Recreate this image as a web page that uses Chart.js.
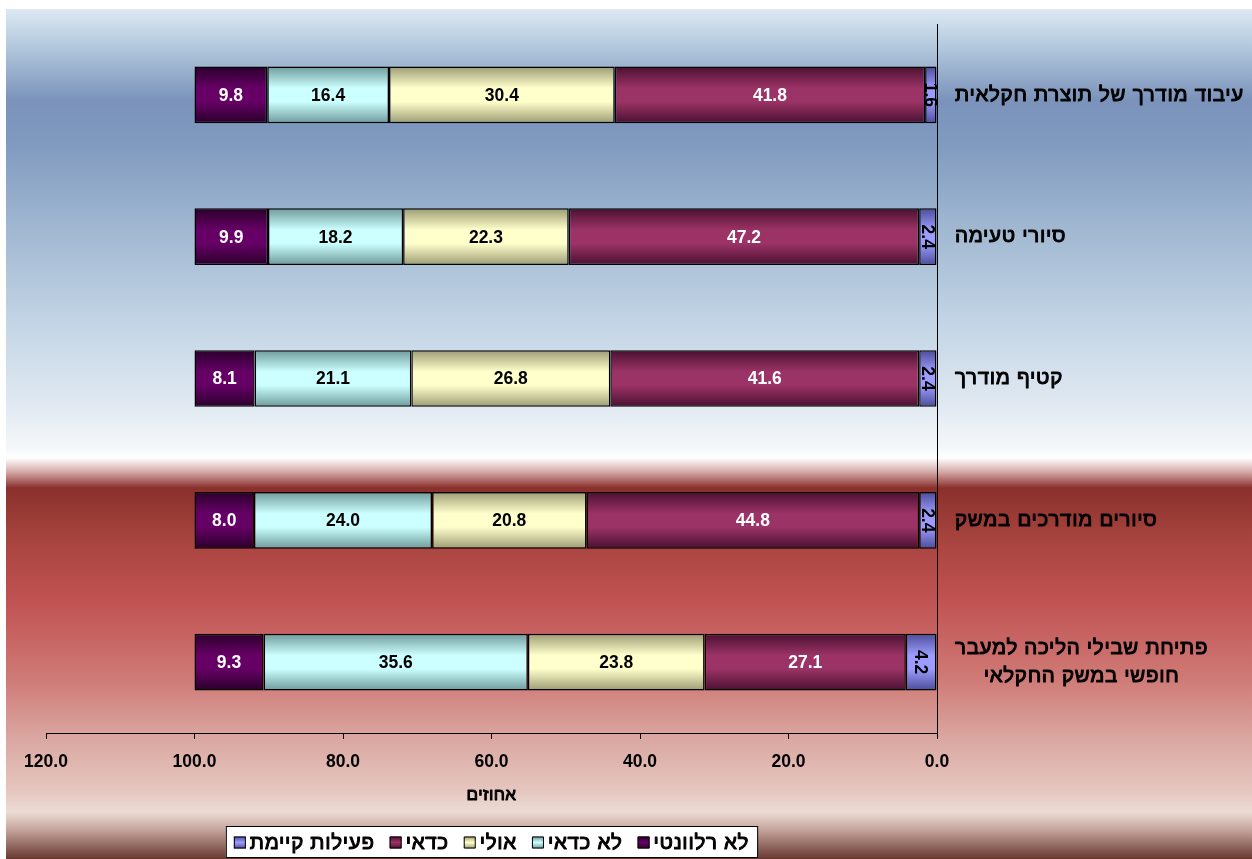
<!DOCTYPE html>
<html>
<head>
<meta charset="utf-8">
<script src="https://cdn.jsdelivr.net/npm/chart.js@4"></script>
<style>
  html, body { margin: 0; padding: 0; background: #fff; }
  canvas { display: block; }
</style>
</head>
<body>
<canvas id="Chart1" width="1252" height="859"></canvas>
<script>
// categories, top to bottom
const categories = [
    'עיבוד מודרך של תוצרת חקלאית',
    'סיורי טעימה',
    'קטיף מודרך',
    'סיורים מודרכים במשק',
    ['פתיחת שבילי הליכה למעבר', 'חופשי במשק החקלאי']
];
// series, from the 0 end (right) outwards
const seriesNames = ['פעילות קיימת', 'כדאי', 'אולי', 'לא כדאי', 'לא רלוונטי'];
const existing = [1.6, 2.4, 2.4, 2.4, 4.2];
const worth = [41.8, 47.2, 41.6, 44.8, 27.1];
const maybe = [30.4, 22.3, 26.8, 20.8, 23.8];
const notWorth = [16.4, 18.2, 21.1, 24.0, 35.6];
const irrelevant = [9.8, 9.9, 8.1, 8.0, 9.3];
const seriesValues = [existing, worth, maybe, notWorth, irrelevant];
const xTicks = [0, 20, 40, 60, 80, 100, 120];
const axisTitle = 'אחוזים';

// styles
const baseColors = ['#9c9cff', '#9b3366', '#ffffcc', '#ccffff', '#660066'];
const edgeColors = ['#4c4c9a', '#4a1030', '#9c9c74', '#6e9a9a', '#2a002a'];
const labelColors = ['#000', '#fff', '#000', '#000', '#fff'];
const FONT = '"Liberation Sans", Arial, sans-serif';
Chart.defaults.font.family = FONT;

// background bands (page y, colour)
const bgStops = [
    [9, '#dde9f3'], [50, '#afc5db'], [100, '#7b93bb'], [140, '#7f99bf'],
    [220, '#9db5cf'], [320, '#c2d4e5'], [410, '#e2eaf2'], [450, '#f6f9fb'],
    [458, '#ffffff'], [472, '#d4a8a6'], [488, '#8a302c'], [540, '#a8443f'],
    [600, '#c05252'], [680, '#cf7b77'], [740, '#dba8a2'], [790, '#e5c6bf'],
    [812, '#ecdcd4'], [830, '#c4a49c'], [859, '#683830']
];

function barFill(k) {
    return function(c) {
        const chart = c.chart;
        const ys = chart.scales.y;
        if (!ys || !chart.chartArea || c.type !== 'data') return baseColors[k];
        const y = ys.getPixelForValue(c.dataIndex);
        const half = Math.abs(ys.getPixelForValue(1) - ys.getPixelForValue(0)) * 0.4 / 2;
        if (!isFinite(y) || !isFinite(half) || half <= 0) return baseColors[k];
        const g = chart.ctx.createLinearGradient(0, y - half, 0, y + half);
        g.addColorStop(0, edgeColors[k]);
        g.addColorStop(0.38, baseColors[k]);
        g.addColorStop(0.62, baseColors[k]);
        g.addColorStop(1, edgeColors[k]);
        return g;
    };
}

// Hebrew text: regular face thickened with a thin stroke
function boldText(c, text, x, y) {
    c.lineWidth = 1;
    c.strokeStyle = c.fillStyle;
    c.lineJoin = 'round';
    c.strokeText(text, x, y);
    c.fillText(text, x, y);
}

const backgroundPlugin = {
    id: 'bgFill',
    beforeDraw(chart) {
        const c = chart.ctx;
        const g = c.createLinearGradient(0, 9, 0, chart.height);
        bgStops.forEach(([y, col]) => g.addColorStop((y - 9) / (chart.height - 9), col));
        c.save();
        c.fillStyle = '#fff';
        c.fillRect(0, 0, chart.width, chart.height);
        c.fillStyle = g;
        c.fillRect(6, 9, chart.width - 6, chart.height - 9);
        c.restore();
    }
};

// value labels inside the bars
const barLabelPlugin = {
    id: 'barLabels',
    afterDatasetsDraw(chart) {
        const c = chart.ctx;
        chart.data.datasets.forEach((ds, di) => {
            const meta = chart.getDatasetMeta(di);
            meta.data.forEach((bar, i) => {
                c.save();
                c.font = 'bold 17.5px ' + FONT;
                c.fillStyle = labelColors[di];
                c.textAlign = 'center';
                c.textBaseline = 'middle';
                c.translate((bar.x + bar.base) / 2, bar.y);
                if (di === 0) c.rotate(Math.PI / 2);
                c.fillText(ds.data[i].toFixed(1), 0, 1);
                c.restore();
            });
        });
    }
};

// category names to the right of the axis, plus the axis title
const categoryPlugin = {
    id: 'categoryLabels',
    afterDraw(chart) {
        const c = chart.ctx;
        const ys = chart.scales.y;
        const area = chart.chartArea;
        const x0 = area.right + 18;
        c.save();
        c.direction = 'ltr';
        c.font = '20.5px ' + FONT;
        c.letterSpacing = '0.7px';
        c.fillStyle = '#000';
        c.textAlign = 'center';
        c.textBaseline = 'middle';
        categories.forEach((lab, i) => {
            const lines = Array.isArray(lab) ? lab : [lab];
            const y = ys.getPixelForValue(i);
            const w = Math.max(...lines.map(l => c.measureText(l).width));
            lines.forEach((l, k) => {
                boldText(c, l, x0 + w / 2, y + (k - (lines.length - 1) / 2) * 28);
            });
        });
        c.font = '17px ' + FONT;
        c.letterSpacing = '0.4px';
        boldText(c, axisTitle, (area.left + area.right) / 2, 795);
        c.restore();
    }
};

// boxed legend centred under the plot
const legendPlugin = {
    id: 'boxLegend',
    afterDraw(chart) {
        const c = chart.ctx;
        const box = 12, gap = 4, spacing = 15, pad = 8;
        c.save();
        c.direction = 'ltr';
        c.font = '20.5px ' + FONT;
        c.letterSpacing = '0.7px';
        const widths = seriesNames.map(n => c.measureText(n).width);
        const total = widths.reduce((a, w) => a + box + gap + w, 0) + spacing * (seriesNames.length - 1);
        const cx = (chart.chartArea.left + chart.chartArea.right) / 2;
        const left = cx - total / 2 - pad;
        const top = 826, h = 31;
        c.fillStyle = '#fff';
        c.fillRect(left, top, total + pad * 2, h);
        c.strokeStyle = '#000';
        c.lineWidth = 1;
        c.strokeRect(left + 0.5, top + 0.5, total + pad * 2, h);
        let x = left + pad;
        const my = top + h / 2 + 1;
        seriesNames.forEach((n, k) => {
            const g = c.createLinearGradient(0, my - box / 2, 0, my + box / 2);
            g.addColorStop(0, edgeColors[k]);
            g.addColorStop(0.5, baseColors[k]);
            g.addColorStop(1, edgeColors[k]);
            c.fillStyle = g;
            c.fillRect(x, my - box / 2, box, box);
            c.strokeStyle = '#000';
            c.lineWidth = 1;
            c.strokeRect(x + 0.5, my - box / 2 + 0.5, box - 1, box - 1);
            x += box + gap;
            c.fillStyle = '#000';
            c.textAlign = 'left';
            c.textBaseline = 'middle';
            boldText(c, n, x, my + 1);
            x += widths[k] + spacing;
        });
        c.restore();
    }
};

const ctx1 = document.getElementById('Chart1').getContext('2d');
const chart1 = new Chart(ctx1, {
    type: 'bar',
    data: {
        labels: categories.map(l => Array.isArray(l) ? l.join(' ') : l),
        datasets: seriesNames.map((name, k) => ({
            label: name,
            data: seriesValues[k],
            backgroundColor: barFill(k),
            borderColor: '#000',
            borderWidth: 1.5,
            borderSkipped: false,
            barPercentage: 0.4,
            categoryPercentage: 1
        }))
    },
    options: {
        indexAxis: 'y',
        responsive: false,
        animation: false,
        layout: { padding: { left: 46, top: 24 } },
        plugins: {
            legend: { display: false },
            tooltip: { enabled: false }
        },
        scales: {
            x: {
                stacked: true,
                reverse: true,
                min: 0,
                max: 120,
                afterBuildTicks: s => { s.ticks = xTicks.map(v => ({ value: v })); },
                ticks: {
                    callback: v => Number(v).toFixed(1),
                    color: '#000',
                    font: { size: 17.5, weight: 'bold' },
                    padding: 13,
                    maxRotation: 0
                },
                grid: { drawOnChartArea: false, tickLength: 6, color: '#000' },
                border: { color: '#000', width: 1 },
                afterFit: s => { s.height = 126; }
            },
            y: {
                stacked: true,
                position: 'right',
                ticks: { display: false },
                grid: { display: false },
                border: { color: '#000', width: 1 },
                afterFit: s => { s.width = 315; }
            }
        }
    },
    plugins: [backgroundPlugin, barLabelPlugin, categoryPlugin, legendPlugin]
});
</script>
</body>
</html>
